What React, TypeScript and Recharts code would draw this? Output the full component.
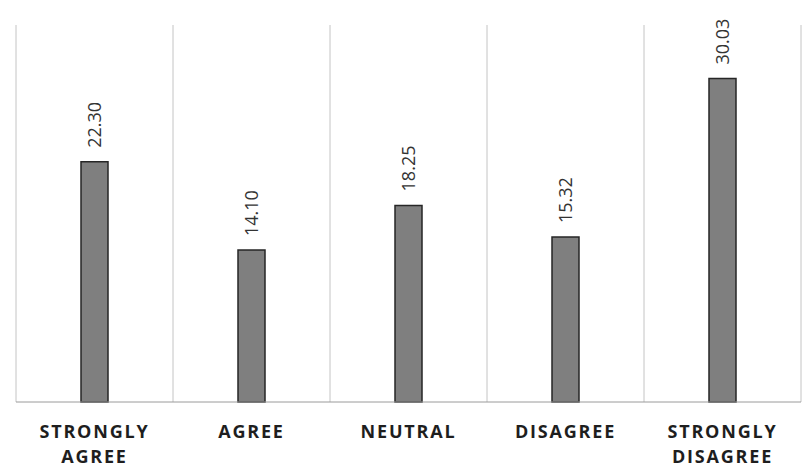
import { Bar, BarChart, CartesianGrid, LabelList, XAxis, YAxis } from 'recharts';

const categories = ['STRONGLY AGREE', 'AGREE', 'NEUTRAL', 'DISAGREE', 'STRONGLY DISAGREE'];
const percentages = [22.3, 14.1, 18.25, 15.32, 30.03];

const data = categories.map((c, i) => ({ name: c, value: percentages[i] }));

const FONT = '"Open Sans", "Liberation Sans", sans-serif';

function CategoryTick(props: any) {
  const { x, y, payload } = props;
  const words = String(payload.value).split(' ');
  // two-word labels wrap onto two lines, like the original
  const lines = words.length > 1 ? words : [payload.value];
  return (
    <text
      textAnchor="middle"
      fill="#1e1e1e"
      fontFamily={FONT}
      fontWeight={700}
      fontSize={18}
      letterSpacing={1.8}
    >
      {lines.map((w: string, i: number) => (
        <tspan key={i} x={x} y={y + 36 + i * 25}>{w}</tspan>
      ))}
    </text>
  );
}

function ValueLabel(props: any) {
  const { x, y, width, value } = props;
  const cx = x + width / 2;
  const ty = y - 14;
  return (
    <text
      x={cx}
      y={ty}
      transform={`rotate(-90 ${cx} ${ty})`}
      textAnchor="start"
      dominantBaseline="central"
      fill="#333"
      fontFamily={FONT}
      fontSize={18}
    >
      {Number(value).toFixed(2)}
    </text>
  );
}

export default function App() {
  return (
    <div style={{ position: 'absolute', left: 0, top: 0, background: '#fff' }}>
      <BarChart
        width={803}
        height={474}
        data={data}
        margin={{ top: 25, right: 2, bottom: 0, left: 16 }}
      >
        <CartesianGrid
          horizontal={false}
          stroke="#c4c4c4"
          verticalCoordinatesGenerator={({ offset }: any) =>
            categories.map((_, i) => offset.left + (i * offset.width) / categories.length)
              .concat([offset.left + offset.width])
          }
        />
        <XAxis
          dataKey="name"
          height={72}
          interval={0}
          tickLine={false}
          tickSize={0}
          tickMargin={0}
          axisLine={{ stroke: '#9a9a9a' }}
          tick={<CategoryTick />}
        />
        <YAxis hide domain={[0, 35]} />
        <Bar dataKey="value" fill="#7f7f7f" stroke="#262626" strokeWidth={1.5} barSize={27} isAnimationActive={false}>
          <LabelList dataKey="value" content={<ValueLabel />} />
        </Bar>
      </BarChart>
    </div>
  );
}
